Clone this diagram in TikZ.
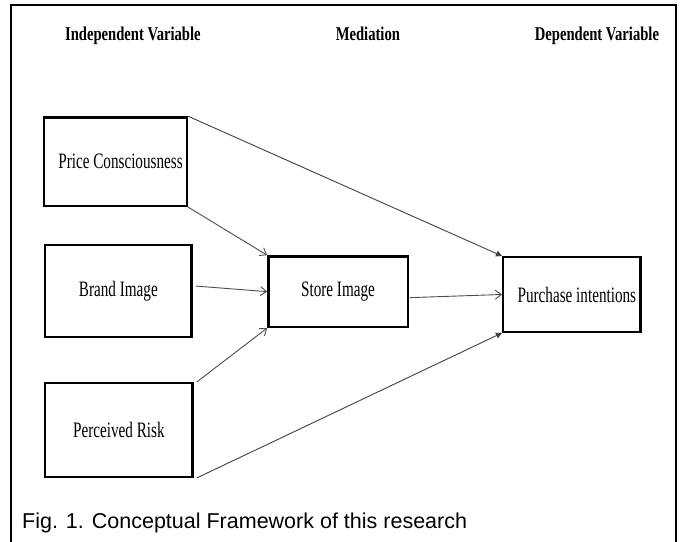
\documentclass[tikz,border=0pt]{standalone}
\usepackage{fontspec}
\setmainfont{Liberation Serif}
\newfontfamily\boxfont[FakeStretch=0.69]{Liberation Serif}
\newfontfamily\headfont[FakeStretch=0.75]{Liberation Serif}
\newfontfamily\capfont{Liberation Sans}
\usetikzlibrary{arrows.meta}
\tikzset{
    box/.style={draw, line width=2.4pt, inner sep=0pt, align=center,
                font=\boxfont\fontsize{22}{26}\selectfont},
    head/.style={anchor=base, inner sep=0pt,
                 font=\headfont\bfseries\fontsize{19.5}{23}\selectfont},
    flow/.style={-{Straight Barb[length=6pt, width=9pt]}, line width=0.9pt,
                 color=black!70},
    direct/.style={-{Triangle[length=6pt, width=6pt]}, line width=0.9pt,
                   color=black!75},
}

\begin{document}
\begin{tikzpicture}

    \useasboundingbox (0,0) rectangle (24.005,-19.049);
    \draw[line width=2.8pt] (0.387,-19.049) -- (0.387,-0.176)
        -- (23.76,-0.176) -- (23.76,-19.049);

    \node[head] (indep) at (4.67,-1.41) {Independent Variable};
    \node[head] (medi) at (12.93,-1.41) {Mediation};
    \node[head] (dep) at (20.98,-1.41) {Dependent Variable};

    \node[box, minimum width=5.01cm, minimum height=3.11cm] (price) at (4.06,-5.68) {\hspace{10pt}Price Consciousness};
    \node[box, minimum width=5.15cm, minimum height=3.22cm] (brand) at (4.16,-10.23) {Brand Image};
    \node[box, minimum width=5.18cm, minimum height=3.29cm] (risk) at (4.18,-15.11) {Perceived Risk};
    \node[box, minimum width=4.9cm, minimum height=2.48cm] (store) at (11.88,-10.25) {Store Image};
    \node[box, minimum width=4.83cm, minimum height=2.62cm] (purchase) at (20.1,-10.35) {\hspace{10pt}Purchase intentions};

    \draw[flow] (price.south east) -- (store.north west);
    \draw[flow] ([xshift=3pt,yshift=5pt]brand.east) -- (store.west);
    \draw[flow] ([xshift=3pt]risk.north east) -- (store.south west);
    \draw[flow] ([xshift=1pt,yshift=-6pt]store.east) -- (purchase.west);
    \draw[direct] (price.north east) -- (purchase.north west);
    \draw[direct] ([xshift=3pt]risk.south east) -- (purchase.south west);

    \node[anchor=base west, inner sep=0pt, font=\capfont\fontsize{21.5}{26}\selectfont]
        (caption) at (0.773,-18.56) {Fig. 1. Conceptual Framework of this research};

\end{tikzpicture}
\end{document}
